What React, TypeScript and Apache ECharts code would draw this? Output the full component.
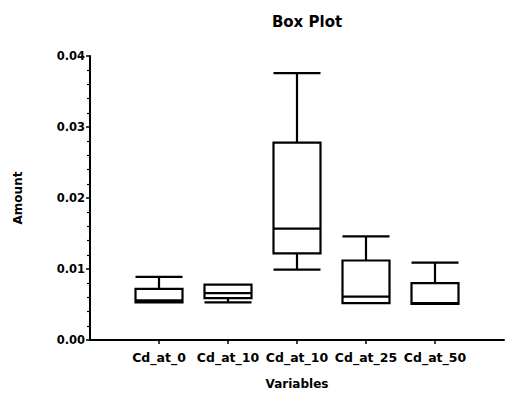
import React, { useEffect, useRef } from "react";
import * as echarts from "echarts";

// Variables shown on the x axis (positions 1..5; 0 and 6 are empty padding slots)
const categories = ["", "Cd_at_0", "Cd_at_10", "Cd_at_10", "Cd_at_25", "Cd_at_50", ""];
const positions = [1, 2, 3, 4, 5];
// Five-number summaries: [min, Q1, median, Q3, max]
const mins = [0.0053, 0.0053, 0.0099, 0.0052, 0.0051];
const q1s = [0.0053, 0.0059, 0.0122, 0.0052, 0.0051];
const medians = [0.0056, 0.0066, 0.0157, 0.0061, 0.0052];
const q3s = [0.0072, 0.0078, 0.0278, 0.0112, 0.0080];
const maxs = [0.0089, 0.0078, 0.0376, 0.0146, 0.0109];
const yTicks = [0, 0.01, 0.02, 0.03, 0.04];

const FONT = "DejaVu Sans, Verdana, sans-serif";

export default function App() {
  const ref = useRef<HTMLDivElement>(null);

  useEffect(() => {
    if (!ref.current) return;
    const chart = echarts.init(ref.current, null, { renderer: "svg" });
    const boxData = positions.map((p, i) => [p, mins[i], q1s[i], medians[i], q3s[i], maxs[i]]);

    chart.setOption({
      animation: false,
      backgroundColor: "#ffffff",
      title: {
        text: "Box Plot",
        left: 302,
        top: 9,
        textAlign: "center",
        textStyle: { fontFamily: FONT, fontSize: 15, fontWeight: "bold", color: "#000" },
      },
      grid: { left: 90, top: 56, width: 420, height: 292 },
      xAxis: {
        type: "category",
        data: categories,
        boundaryGap: false,
        name: "Variables",
        nameLocation: "middle",
        nameGap: 38,
        nameTextStyle: { fontFamily: FONT, fontSize: 12, fontWeight: "bold", color: "#000" },
        axisLine: { lineStyle: { color: "#000", width: 2 } },
        axisTick: {
          length: 4,
          interval: (i: number) => i >= 1 && i <= 5,
          lineStyle: { color: "#000", width: 1.5 },
        },
        axisLabel: {
          interval: 0,
          margin: 11,
          fontFamily: FONT,
          fontSize: 12.5,
          fontWeight: "bold",
          color: "#000",
        },
        splitLine: { show: false },
      },
      yAxis: {
        type: "value",
        min: yTicks[0],
        max: yTicks[yTicks.length - 1],
        interval: 0.01,
        name: "Amount",
        nameLocation: "middle",
        nameRotate: 90,
        nameGap: 66,
        nameTextStyle: { fontFamily: FONT, fontSize: 12, fontWeight: "bold", color: "#000" },
        axisLine: { show: true, lineStyle: { color: "#000", width: 2 } },
        axisTick: { show: true, length: 4, lineStyle: { color: "#000", width: 1.5 } },
        minorTick: { show: true, splitNumber: 5, length: 3, lineStyle: { color: "#000", width: 1.2 } },
        axisLabel: {
          margin: 5,
          fontFamily: FONT,
          fontSize: 11.5,
          fontWeight: "bold",
          color: "#000",
          formatter: (v: number) => v.toFixed(2),
        },
        splitLine: { show: false },
      },
      series: [
        {
          type: "boxplot",
          data: boxData,
          encode: { x: 0, y: [1, 2, 3, 4, 5] },
          boxWidth: [47, 47],
          itemStyle: { color: "#ffffff", borderColor: "#000", borderWidth: 2.2 },
        },
      ],
    });

    return () => chart.dispose();
  }, []);

  return (
    <div
      ref={ref}
      style={{ position: "fixed", left: 0, top: 0, width: 507, height: 395, background: "#fff" }}
    />
  );
}
